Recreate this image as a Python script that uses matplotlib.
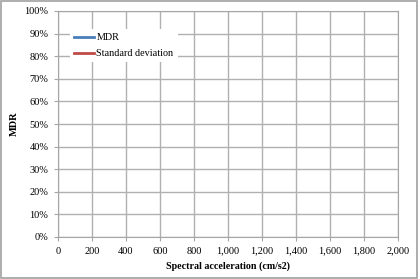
import matplotlib
matplotlib.use('Agg')
import matplotlib.pyplot as plt
from matplotlib.ticker import PercentFormatter, FuncFormatter

# data (the reference chart shows no plotted points, only the legend)
accel = []
mdr = []
std_dev = []

x_ticks = list(range(0, 2001, 200))
y_ticks = [i / 10 for i in range(0, 11)]

plt.rcParams['font.family'] = ['Liberation Serif', 'DejaVu Serif']

fig = plt.figure(figsize=(4.2, 2.79), dpi=100)
ax = fig.add_axes([58 / 420, 1 - 237 / 279, 340 / 420, 226 / 279])

ax.plot(accel, mdr, color='#4a7ebb', lw=2, label='MDR')
ax.plot(accel, std_dev, color='#be4b48', lw=2, label='Standard deviation')

ax.set_xlim(0, 2000)
ax.set_ylim(0, 1)
ax.set_xticks(x_ticks)
ax.set_yticks(y_ticks)
ax.xaxis.set_major_formatter(FuncFormatter(lambda v, p: f'{int(v):,}'))
ax.yaxis.set_major_formatter(PercentFormatter(1.0, decimals=0))
ax.grid(True, color='#b0b0b0', lw=1)
ax.set_axisbelow(True)

for s in ax.spines.values():
    s.set_color('#a6a6a6')
ax.tick_params(axis='both', labelsize=7.5, length=3, color='#a6a6a6', pad=4)

ax.set_xlabel('Spectral acceleration (cm/s2)', fontsize=7.2, fontweight='bold', labelpad=4)
ax.set_ylabel('MDR', fontsize=7.5, fontweight='bold', labelpad=4)

leg = ax.legend(loc='upper left', bbox_to_anchor=(0.034, 0.92), fontsize=7.3,
                frameon=True, fancybox=False, handlelength=2.0, borderpad=0.4,
                labelspacing=0.7, handletextpad=0.25, borderaxespad=0)
leg.get_frame().set_edgecolor('none')
leg.get_frame().set_alpha(1)

# outer border of the chart
fig.patches.append(plt.Rectangle((0.002, 0.004), 0.99, 0.992, transform=fig.transFigure,
                                 fill=False, edgecolor='#a0a0a0', lw=1.2))

fig.savefig('out.png', dpi=100)
